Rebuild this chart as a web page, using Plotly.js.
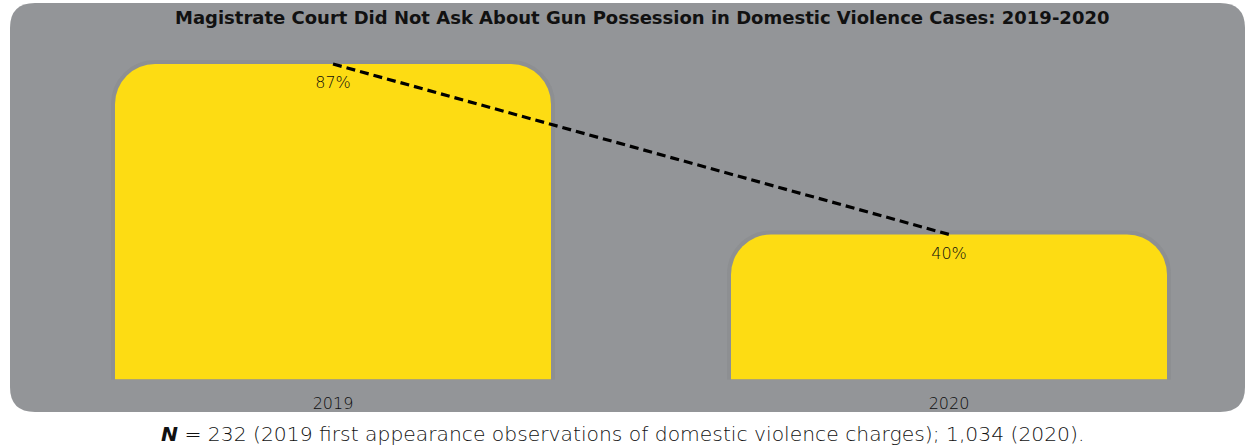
<!DOCTYPE html>
<html>
<head>
<meta charset="utf-8">
<script src="https://cdn.plot.ly/plotly-3.0.1.min.js"></script>
<style>
  html, body { margin: 0; padding: 0; background: #ffffff; }
  #chart { width: 1247px; height: 448px; }
</style>
</head>
<body>
<div id="chart"></div>
<script>
// ---- data ----
const years = ['2019', '2020'];
const pctNotAsked = [87, 40];
const valueLabels = ['87%', '40%'];
const chartTitle = 'Magistrate Court Did Not Ask About Gun Possession in Domestic Violence Cases: 2019-2020';
const footnote = '<b><i>N</i></b> = 232 (2019 first appearance observations of domestic violence charges); 1,034 (2020).';

// ---- layout helpers (pixel -> paper) ----
const W = 1247, H = 448;
const px = x => x / W;
const py = y => 1 - y / H;
function roundedRect(x0, y0, x1, y1, r) {
  const p = (x, y) => px(x) + ',' + py(y);
  return 'M' + p(x0 + r, y0) +
    ' L' + p(x1 - r, y0) + ' Q' + p(x1, y0) + ' ' + p(x1, y0 + r) +
    ' L' + p(x1, y1 - r) + ' Q' + p(x1, y1) + ' ' + p(x1 - r, y1) +
    ' L' + p(x0 + r, y1) + ' Q' + p(x0, y1) + ' ' + p(x0, y1 - r) +
    ' L' + p(x0, y0 + r) + ' Q' + p(x0, y0) + ' ' + p(x0 + r, y0) + ' Z';
}

const baseline = 379.5;       // pixel y of bar base
const topPx = 64;             // pixel y of the 87% bar top
const unitPx = (baseline - topPx) / 87;
const yMax = baseline / unitPx;
const c0 = 333, step = 616;   // pixel centre of first category, spacing
const xr0 = -c0 / step, xr1 = xr0 + W / step;
const barW = 436 / step;

const lightFont = { family: 'DejaVu Sans, sans-serif', weight: 300, color: '#0d0d0d' };

const traces = [
  { // soft shadow
    type: 'bar', x: years, y: pctNotAsked, width: barW,
    marker: { color: 'rgba(0,0,0,0)', line: { color: 'rgba(70,70,75,0.07)', width: 8 }, cornerradius: 40 },
    hoverinfo: 'skip', showlegend: false
  },
  {
    type: 'bar', x: years, y: pctNotAsked, width: barW,
    marker: { color: '#FDDC13', line: { width: 0 }, cornerradius: 40 },
    hoverinfo: 'skip', showlegend: false
  },
  {
    type: 'scatter', mode: 'lines+markers+text', x: years, y: pctNotAsked,
    text: valueLabels, textposition: 'bottom center',
    textfont: Object.assign({ size: 16 }, lightFont),
    marker: { size: 18, color: 'rgba(0,0,0,0)', line: { width: 0 } },
    line: { color: '#000000', width: 3.2, dash: '9px,5px' },
    hoverinfo: 'skip', showlegend: false, cliponaxis: false
  }
];

const layout = {
  width: W, height: H,
  margin: { l: 0, r: 0, t: 0, b: 0, pad: 0 },
  paper_bgcolor: '#ffffff',
  plot_bgcolor: 'rgba(0,0,0,0)',
  barmode: 'overlay',
  showlegend: false,
  hovermode: false,
  xaxis: {
    type: 'category', range: [xr0, xr1], domain: [0, 1],
    showgrid: false, zeroline: false, showline: false, ticks: '',
    ticklabelstandoff: 12,
    tickfont: Object.assign({ size: 16 }, lightFont),
    fixedrange: true
  },
  yaxis: {
    range: [0, yMax], domain: [(H - baseline) / H, 1],
    showgrid: false, zeroline: false, showline: false, showticklabels: false, ticks: '',
    fixedrange: true
  },
  shapes: [{
    type: 'path', xref: 'paper', yref: 'paper', layer: 'below',
    path: roundedRect(10, 3, 1245, 412, 25),
    fillcolor: '#939598', line: { width: 0 }
  }],
  annotations: [
    {
      xref: 'paper', yref: 'paper', x: px(642), y: py(17), xanchor: 'center', yanchor: 'middle',
      text: '<b>' + chartTitle + '</b>', showarrow: false,
      font: { family: 'DejaVu Sans, sans-serif', size: 18, color: '#111111' }
    },
    {
      xref: 'paper', yref: 'paper', x: px(622.5), y: py(434), xanchor: 'center', yanchor: 'middle',
      text: footnote, showarrow: false,
      font: Object.assign({}, lightFont, { size: 20.3, color: '#111111' })
    }
  ]
};

Plotly.newPlot('chart', traces, layout, { displayModeBar: false, staticPlot: true });
</script>
</body>
</html>
